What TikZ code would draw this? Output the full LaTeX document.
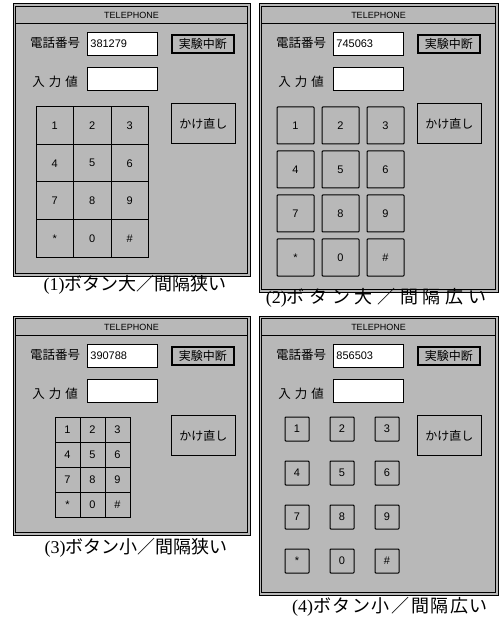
\documentclass[tikz,border=0pt]{standalone}
\usepackage{fontspec}
\setmainfont{Liberation Serif}
\newfontfamily\jpfont{Noto Sans CJK JP}
\newfontfamily\uifont{Liberation Sans}
\definecolor{winbg}{gray}{0.72}
\tikzset{
  winframe/.style={draw=black, fill=winbg, line width=1pt},
  titletext/.style={font=\uifont\fontsize{9}{9}\selectfont, inner sep=0pt},
  lbl/.style={font=\jpfont\fontsize{12.5}{13}\selectfont, inner sep=0pt},
  tbox/.style={draw=black, fill=white, line width=.8pt, minimum height=23pt, text width=64pt, inner sep=3pt, font=\uifont\fontsize{11}{11}\selectfont, anchor=north west},
  stopbtn/.style={draw=black, line width=1.6pt, fill=winbg, minimum width=62pt, minimum height=18pt, inner sep=0pt, font=\jpfont\fontsize{12}{12}\selectfont, anchor=north west},
  redial/.style={draw=black, line width=.9pt, fill=winbg, minimum width=64pt, minimum height=40pt, inner sep=0pt, font=\jpfont\fontsize{12}{12}\selectfont, anchor=north west},
  key/.style={draw=black, line width=1pt, fill=winbg, inner sep=0pt, font=\uifont\fontsize{11}{11}\selectfont},
  caption/.style={font=\fontsize{18}{18}\selectfont, inner sep=0pt}
}
% one window: id, width, height, number
\newcommand{\telwindow}[4]{%
  \draw[winframe] (0,0) rectangle (#2,#3);
  \draw[line width=.6pt] (2.5,2.5) rectangle (#2-2.5,#3-2.5);
  \draw[line width=.6pt] (2.5,19) -- (#2-2.5,19);
  \node[titletext] (#1title) at (#2/2,11) {TELEPHONE};
  \node[lbl] (#1numlbl) at (42,39) {電話番号};
  \node[tbox] (#1numbox) at (74,28) {#4};
  \node[stopbtn] (#1stop) at (158,30) {実験中断};
  \node[lbl] (#1inlbl) at (42,78) {入\hspace{4pt}力\hspace{4pt}値};
  \node[tbox] (#1inbox) at (74,63) {};
  \node[redial] (#1redial) at (158,99) {かけ直し};
}
\begin{document}
\begin{tikzpicture}[x=1pt,y=-1pt]
\useasboundingbox (0,0) rectangle (500,617);
% (1) large keys, narrow gaps
\begin{scope}[shift={(13,4)}]
\telwindow{pa}{237}{272}{381279}
\foreach \k [count=\n from 0] in {1,2,3,4,5,6,7,8,9,*,0,\#}{
  \pgfmathtruncatemacro{\kc}{mod(\n,3)}
  \pgfmathtruncatemacro{\kr}{div(\n,3)}
  \node[key, minimum size=37.5pt] (pak\n) at ({41.75+37.5*\kc},{121.75+37.5*\kr}) {\k};
}
\end{scope}
% (2) large keys, wide gaps
\begin{scope}[shift={(259,4)}]
\telwindow{pb}{239}{288}{745063}
\foreach \k [count=\n from 0] in {1,2,3,4,5,6,7,8,9,*,0,\#}{
  \pgfmathtruncatemacro{\kc}{mod(\n,3)}
  \pgfmathtruncatemacro{\kr}{div(\n,3)}
  \node[key, rounded corners=.8pt, minimum size=37pt] (pbk\n) at ({36.5+45*\kc},{121.5+44*\kr}) {\k};
}
\end{scope}
% (3) small keys, narrow gaps
\begin{scope}[shift={(13,316)}]
\telwindow{pc}{237}{219}{390788}
\foreach \k [count=\n from 0] in {1,2,3,4,5,6,7,8,9,*,0,\#}{
  \pgfmathtruncatemacro{\kc}{mod(\n,3)}
  \pgfmathtruncatemacro{\kr}{div(\n,3)}
  \node[key, minimum size=25pt] (pck\n) at ({54.5+25*\kc},{113.5+25*\kr}) {\k};
}
\end{scope}
% (4) small keys, wide gaps
\begin{scope}[shift={(259,316)}]
\telwindow{pd}{239}{279}{856503}
\foreach \k [count=\n from 0] in {1,2,3,4,5,6,7,8,9,*,0,\#}{
  \pgfmathtruncatemacro{\kc}{mod(\n,3)}
  \pgfmathtruncatemacro{\kr}{div(\n,3)}
  \node[key, rounded corners=.8pt, minimum size=24pt] (pdk\n) at ({38+45*\kc},{113+44*\kr}) {\k};
}
\end{scope}
\node[caption] (capa) at (135,285) {(1){\jpfont ボタン大／間隔狭い}};
\node[caption] (capb) at (376,298) {(2){\jpfont\addfontfeatures{LetterSpace=26}ボタン大／間隔広い}};
\node[caption] (capc) at (136,548) {(3){\jpfont ボタン小／間隔狭い}};
\node[caption] (capd) at (390,607) {(4){\jpfont\addfontfeatures{LetterSpace=9}ボタン小／間隔広い}};
\end{tikzpicture}
\end{document}
